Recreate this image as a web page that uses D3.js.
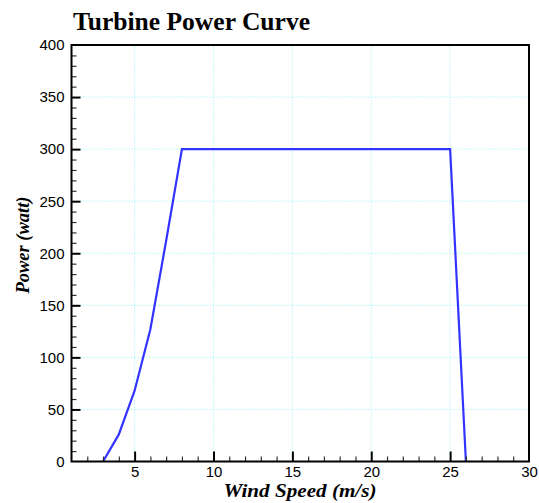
<!DOCTYPE html>
<html>
<head>
<meta charset="utf-8">
<script src="https://cdn.jsdelivr.net/npm/d3@7"></script>
<style>
  body { margin: 0; background: #fff; }
  .tick text { font-family: "Liberation Sans", Arial, sans-serif; font-size: 15px; fill: #000; }
</style>
</head>
<body>
<div id="chart"></div>
<script>
// wind speed (m/s) and power (watt)
const windSpeed = [3, 4, 5, 6, 7, 8, 25, 26];
const power = [0, 26, 68, 127, 212, 300, 300, 0];

const xMajorTicks = [5, 10, 15, 20, 25, 30];
const yMajorTicks = [0, 50, 100, 150, 200, 250, 300, 350, 400];

const width = 539, height = 503;
const margin = { top: 45, right: 10, bottom: 41.5, left: 71.5 };

const svg = d3.select('#chart').append('svg')
    .attr('width', width)
    .attr('height', height);

const x = d3.scaleLinear().domain([1, 30]).range([margin.left, width - margin.right]);
const y = d3.scaleLinear().domain([0, 400]).range([height - margin.bottom, margin.top]);

const xMinor = d3.range(2, 30).filter(v => v % 5 !== 0);
const yMinor = d3.range(10, 400, 10).filter(v => v % 50 !== 0);

// dotted grid at major ticks
const grid = svg.append('g')
    .attr('stroke', '#8ff2f6')
    .attr('stroke-width', 1)
    .attr('stroke-dasharray', '1,2');

grid.selectAll('.vg')
    .data(xMajorTicks.filter(v => v < 30))
    .enter().append('line')
    .attr('x1', d => x(d)).attr('x2', d => x(d))
    .attr('y1', y(0)).attr('y2', y(400));

grid.selectAll('.hg')
    .data(yMajorTicks.filter(v => v > 0 && v < 400))
    .enter().append('line')
    .attr('x1', x(1)).attr('x2', x(30))
    .attr('y1', d => y(d)).attr('y2', d => y(d));

// curve
const line = d3.line()
    .x((d, i) => x(windSpeed[i]))
    .y(d => y(d));

svg.append('path')
    .datum(power)
    .attr('fill', 'none')
    .attr('stroke', '#3333ff')
    .attr('stroke-width', 2.2)
    .attr('stroke-linejoin', 'miter')
    .attr('d', line);

// minor ticks
svg.append('g')
    .attr('transform', `translate(0,${y(0)})`)
    .call(d3.axisBottom(x).tickValues(xMinor).tickSize(-5).tickFormat(''))
    .call(g => g.select('.domain').remove())
    .selectAll('line').attr('stroke', '#333').attr('stroke-width', 1.2);

svg.append('g')
    .attr('transform', `translate(${x(1)},0)`)
    .call(d3.axisLeft(y).tickValues(yMinor).tickSize(-5).tickFormat(''))
    .call(g => g.select('.domain').remove())
    .selectAll('line').attr('stroke', '#333').attr('stroke-width', 1.2);

// major ticks with labels
svg.append('g')
    .attr('transform', `translate(0,${y(0)})`)
    .call(d3.axisBottom(x).tickValues(xMajorTicks).tickSize(-10).tickPadding(5))
    .call(g => g.select('.domain').remove())
    .call(g => g.selectAll('.tick line').attr('stroke-width', 2))
    .call(g => g.selectAll('.tick').filter(d => d === 30).select('line').remove());

svg.append('g')
    .attr('transform', `translate(${x(1)},0)`)
    .call(d3.axisLeft(y).tickValues(yMajorTicks).tickSize(-9).tickPadding(7))
    .call(g => g.select('.domain').remove())
    .call(g => g.selectAll('.tick line').attr('stroke-width', 2))
    .call(g => g.selectAll('.tick').filter(d => d === 0 || d === 400).select('line').remove());

// frame
svg.append('rect')
    .attr('x', x(1)).attr('y', y(400))
    .attr('width', x(30) - x(1))
    .attr('height', y(0) - y(400))
    .attr('fill', 'none')
    .attr('stroke', '#000')
    .attr('stroke-width', 2);

// titles
const serif = '"Liberation Serif", "Times New Roman", serif';

svg.append('text')
    .attr('x', 73).attr('y', 30)
    .attr('textLength', 237)
    .attr('lengthAdjust', 'spacingAndGlyphs')
    .style('font-family', serif)
    .style('font-weight', 'bold')
    .style('font-size', '25.5px')
    .text('Turbine Power Curve');

svg.append('text')
    .attr('x', 300).attr('y', 497)
    .attr('text-anchor', 'middle')
    .attr('textLength', 153)
    .attr('lengthAdjust', 'spacingAndGlyphs')
    .style('font-family', serif)
    .style('font-weight', 'bold')
    .style('font-style', 'italic')
    .style('font-size', '19.5px')
    .text('Wind Speed (m/s)');

svg.append('text')
    .attr('transform', 'translate(29,245) rotate(-90)')
    .attr('text-anchor', 'middle')
    .attr('textLength', 97)
    .attr('lengthAdjust', 'spacingAndGlyphs')
    .style('font-family', serif)
    .style('font-weight', 'bold')
    .style('font-style', 'italic')
    .style('font-size', '18px')
    .text('Power (watt)');
</script>
</body>
</html>
